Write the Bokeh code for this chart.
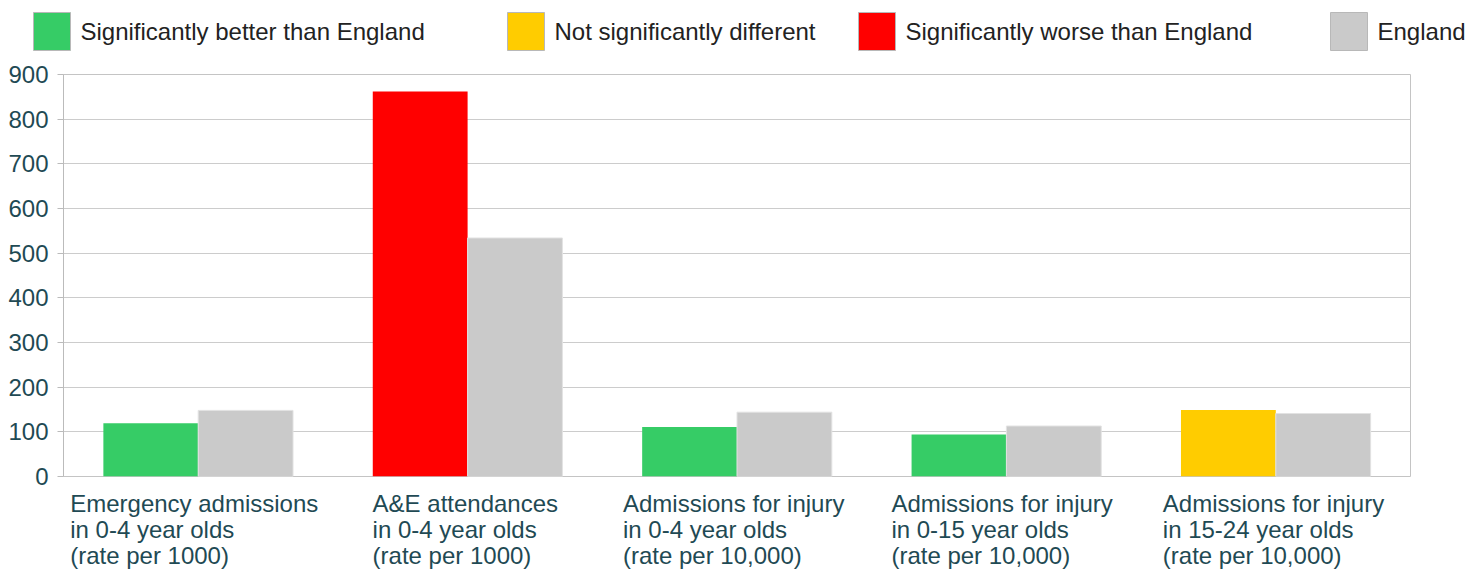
from bokeh.plotting import figure
from bokeh.models import ColumnDataSource, Range1d, FactorRange, FixedTicker
from bokeh.transform import dodge
from bokeh.layouts import column, row
from bokeh.embed import file_html
from bokeh.resources import INLINE
from bokeh.core.properties import value

# ---------------- data ----------------
categories = [
    "Emergency admissions\nin 0-4 year olds\n(rate per 1000)",
    "A&E attendances\nin 0-4 year olds\n(rate per 1000)",
    "Admissions for injury\nin 0-4 year olds\n(rate per 10,000)",
    "Admissions for injury\nin 0-15 year olds\n(rate per 10,000)",
    "Admissions for injury\nin 15-24 year olds\n(rate per 10,000)",
]
local_values = [119, 862, 111, 94, 149]
england_values = [148, 534, 144, 113, 141]
significance = ["better", "worse", "better", "better", "similar"]
y_ticks = [0, 100, 200, 300, 400, 500, 600, 700, 800, 900]
legend_labels = ["Significantly better than England", "Not significantly different",
                 "Significantly worse than England", "England"]

# ---------------- style ----------------
FONT = "Liberation Sans"
FS = "24px"
sig_colors = {"better": "#36CC66", "similar": "#FFCC00", "worse": "#FF0000"}
ENG = "#CACACA"
legend_colors = [sig_colors["better"], sig_colors["similar"], sig_colors["worse"], ENG]
TICK_COL = "#1F4A54"
GRID = "#CCCCCC"

W = 1482
BL, BR = 63, 72

# label block half widths (px) so lines are left aligned, block centred
label_half = [128, 95, 114, 115, 113]

src = ColumnDataSource(dict(
    cat=categories,
    local=local_values,
    eng=england_values,
    color=[sig_colors[s] for s in significance],
    ytext=[-1] * len(categories),
    xoff=[-h for h in label_half],
))

xr = FactorRange(*categories, range_padding=0)

p = figure(x_range=xr, y_range=Range1d(0, 900),
           width=W, height=428, output_backend="svg", toolbar_location=None,
           min_border_left=BL, min_border_right=BR, min_border_top=12, min_border_bottom=14)

p.vbar(x=dodge("cat", -0.176, range=p.x_range), top="local", width=0.352,
       source=src, fill_color="color", line_color=None)
p.vbar(x=dodge("cat", 0.176, range=p.x_range), top="eng", width=0.352,
       source=src, fill_color=ENG, line_color="#E2E2E2", line_width=1)

p.xaxis.visible = False
p.xgrid.grid_line_color = None
p.ygrid.grid_line_color = GRID
p.ygrid.grid_line_width = 1
p.yaxis.ticker = FixedTicker(ticks=y_ticks)
p.yaxis.minor_tick_line_color = None
p.yaxis.major_tick_in = 0
p.yaxis.major_tick_out = 6
p.yaxis.major_tick_line_color = "#BBBBBB"
p.yaxis.axis_line_color = "#BBBBBB"
p.yaxis.major_label_text_font = FONT
p.yaxis.major_label_text_font_size = FS
p.yaxis.major_label_text_color = TICK_COL
p.yaxis.major_label_standoff = 9
p.outline_line_color = "#C4C4C4"
p.background_fill_color = "white"
p.border_fill_color = "white"

# ---------------- category label strip ----------------
cl = figure(x_range=xr, y_range=Range1d(80, 0), width=W, height=80,
            output_backend="svg", toolbar_location=None,
            min_border_left=BL, min_border_right=BR, min_border_top=0, min_border_bottom=0)
cl.text(x="cat", y="ytext", text="cat", source=src, x_offset="xoff",
        text_align="left", text_baseline="top", text_font=value(FONT),
        text_font_size=FS, text_color=TICK_COL, text_line_height=0.98)
cl.axis.visible = False
cl.grid.visible = False
cl.outline_line_color = None

# ---------------- legend strip (full-width frame: data units = page px) ----------------
legend_x = [33, 507, 858, 1330]
lg = figure(x_range=Range1d(0, W), y_range=Range1d(62, 0), width=W, height=62,
            output_backend="svg", toolbar_location=None,
            min_border_left=0, min_border_right=0, min_border_top=0, min_border_bottom=0)
lsrc = ColumnDataSource(dict(
    x=[x + 18.5 for x in legend_x],
    tx=[x + 47 for x in legend_x],
    y=[31] * 4,
    color=legend_colors,
    label=legend_labels,
))
lg.rect(x="x", y="y", width=37, height=38, source=lsrc, fill_color="color",
        line_color="#B8B8B8", line_width=1)
lg.text(x="tx", y="y", text="label", source=lsrc, text_align="left", text_baseline="middle",
        text_font=value(FONT), text_font_size=FS, text_color="#222222")
lg.axis.visible = False
lg.grid.visible = False
lg.outline_line_color = None

layout = column(row(lg), p, cl, spacing=0)
open("out.html", "w").write(file_html(layout, INLINE))
